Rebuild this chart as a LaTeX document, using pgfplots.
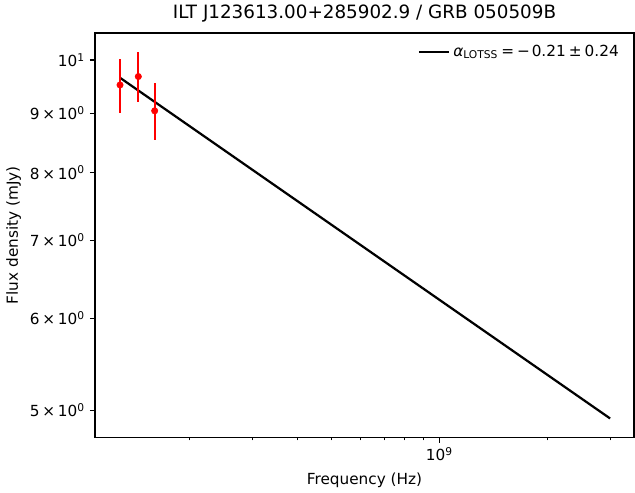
\documentclass[border=0pt]{standalone}
\usepackage{fontspec}
\setmainfont{DejaVu Sans}
\usepackage{pgfplots}
\pgfplotsset{compat=1.18}
\newcommand{\tx}{\hspace{0.18em}×\hspace{0.18em}}
\newcommand{\fs}{\fontsize{11}{13}\selectfont}
\begin{document}
\begin{tikzpicture}
\begin{axis}[
  name=ax,
  scale only axis,
  width=388pt, height=291pt,
  xmode=log, ymode=log,
  xmin=1.09e8, xmax=3.5e9,
  ymin=4.74, ymax=10.55,
  xtick={1e9}, xticklabels={\fs 10\textsuperscript{9}},
  minor xtick={2e8,3e8,4e8,5e8,6e8,7e8,8e8,9e8,2e9,3e9},
  ytick={5,6,7,8,9,10},
  yticklabels={\fs 5\tx10\textsuperscript{0},\fs 6\tx10\textsuperscript{0},\fs 7\tx10\textsuperscript{0},\fs 8\tx10\textsuperscript{0},\fs 9\tx10\textsuperscript{0},\fs 10\textsuperscript{1}},
  minor ytick={},
  tick align=outside,
  major tick length=3.8pt, minor tick length=2.2pt,
  every tick/.style={black, line width=0.85pt},
  minor tick style={line width=0.65pt},
  axis line style={line width=0.85pt},
  xtick pos=bottom, ytick pos=left,
  every axis y label/.style={at={(axis description cs:-0.128,0.5)}, rotate=90, anchor=south},
  every axis x label/.style={at={(axis description cs:0.5,-0.075)}, anchor=north},
  xlabel={\fs Frequency (Hz)},
  ylabel={\fs Flux density (mJy)},
  title={ILT J123613.00+285902.9 / GRB 050509B},
  title style={font=\fontsize{13.2}{15}\selectfont, yshift=-2pt},
  legend style={draw=none, fill=none, at={(0.985,0.985)}, anchor=north east, font=\fs},
  legend cell align=left,
  legend image code/.code={\draw[#1] (0pt,0pt) -- (22pt,0pt);},
]
\addplot[black, line width=1.6pt] coordinates {(1.28e8,9.656) (3e9,4.92)};
\addlegendentry{{\itshape α}\textsubscript{LOTSS}\hspace{0.2em}=\hspace{0.2em}−\hspace{0.12em}0.21\hspace{0.2em}±\hspace{0.2em}0.24}
\addplot[red, only marks, mark=*, mark size=2.3pt,
  error bars/.cd, y dir=both, y explicit, error mark=none,
  error bar style={line width=1.6pt, red}]
  coordinates {
    (1.28e8,9.52) +- (0,0.51)
    (1.44e8,9.68) +- (0,0.48)
    (1.60e8,9.045) +- (0,0.51)
  };
\end{axis}
\path ([xshift=-68.4pt,yshift=-39.6pt]ax.south west) rectangle ([xshift=0.72pt,yshift=23.8pt]ax.north east);
\end{tikzpicture}
\end{document}
